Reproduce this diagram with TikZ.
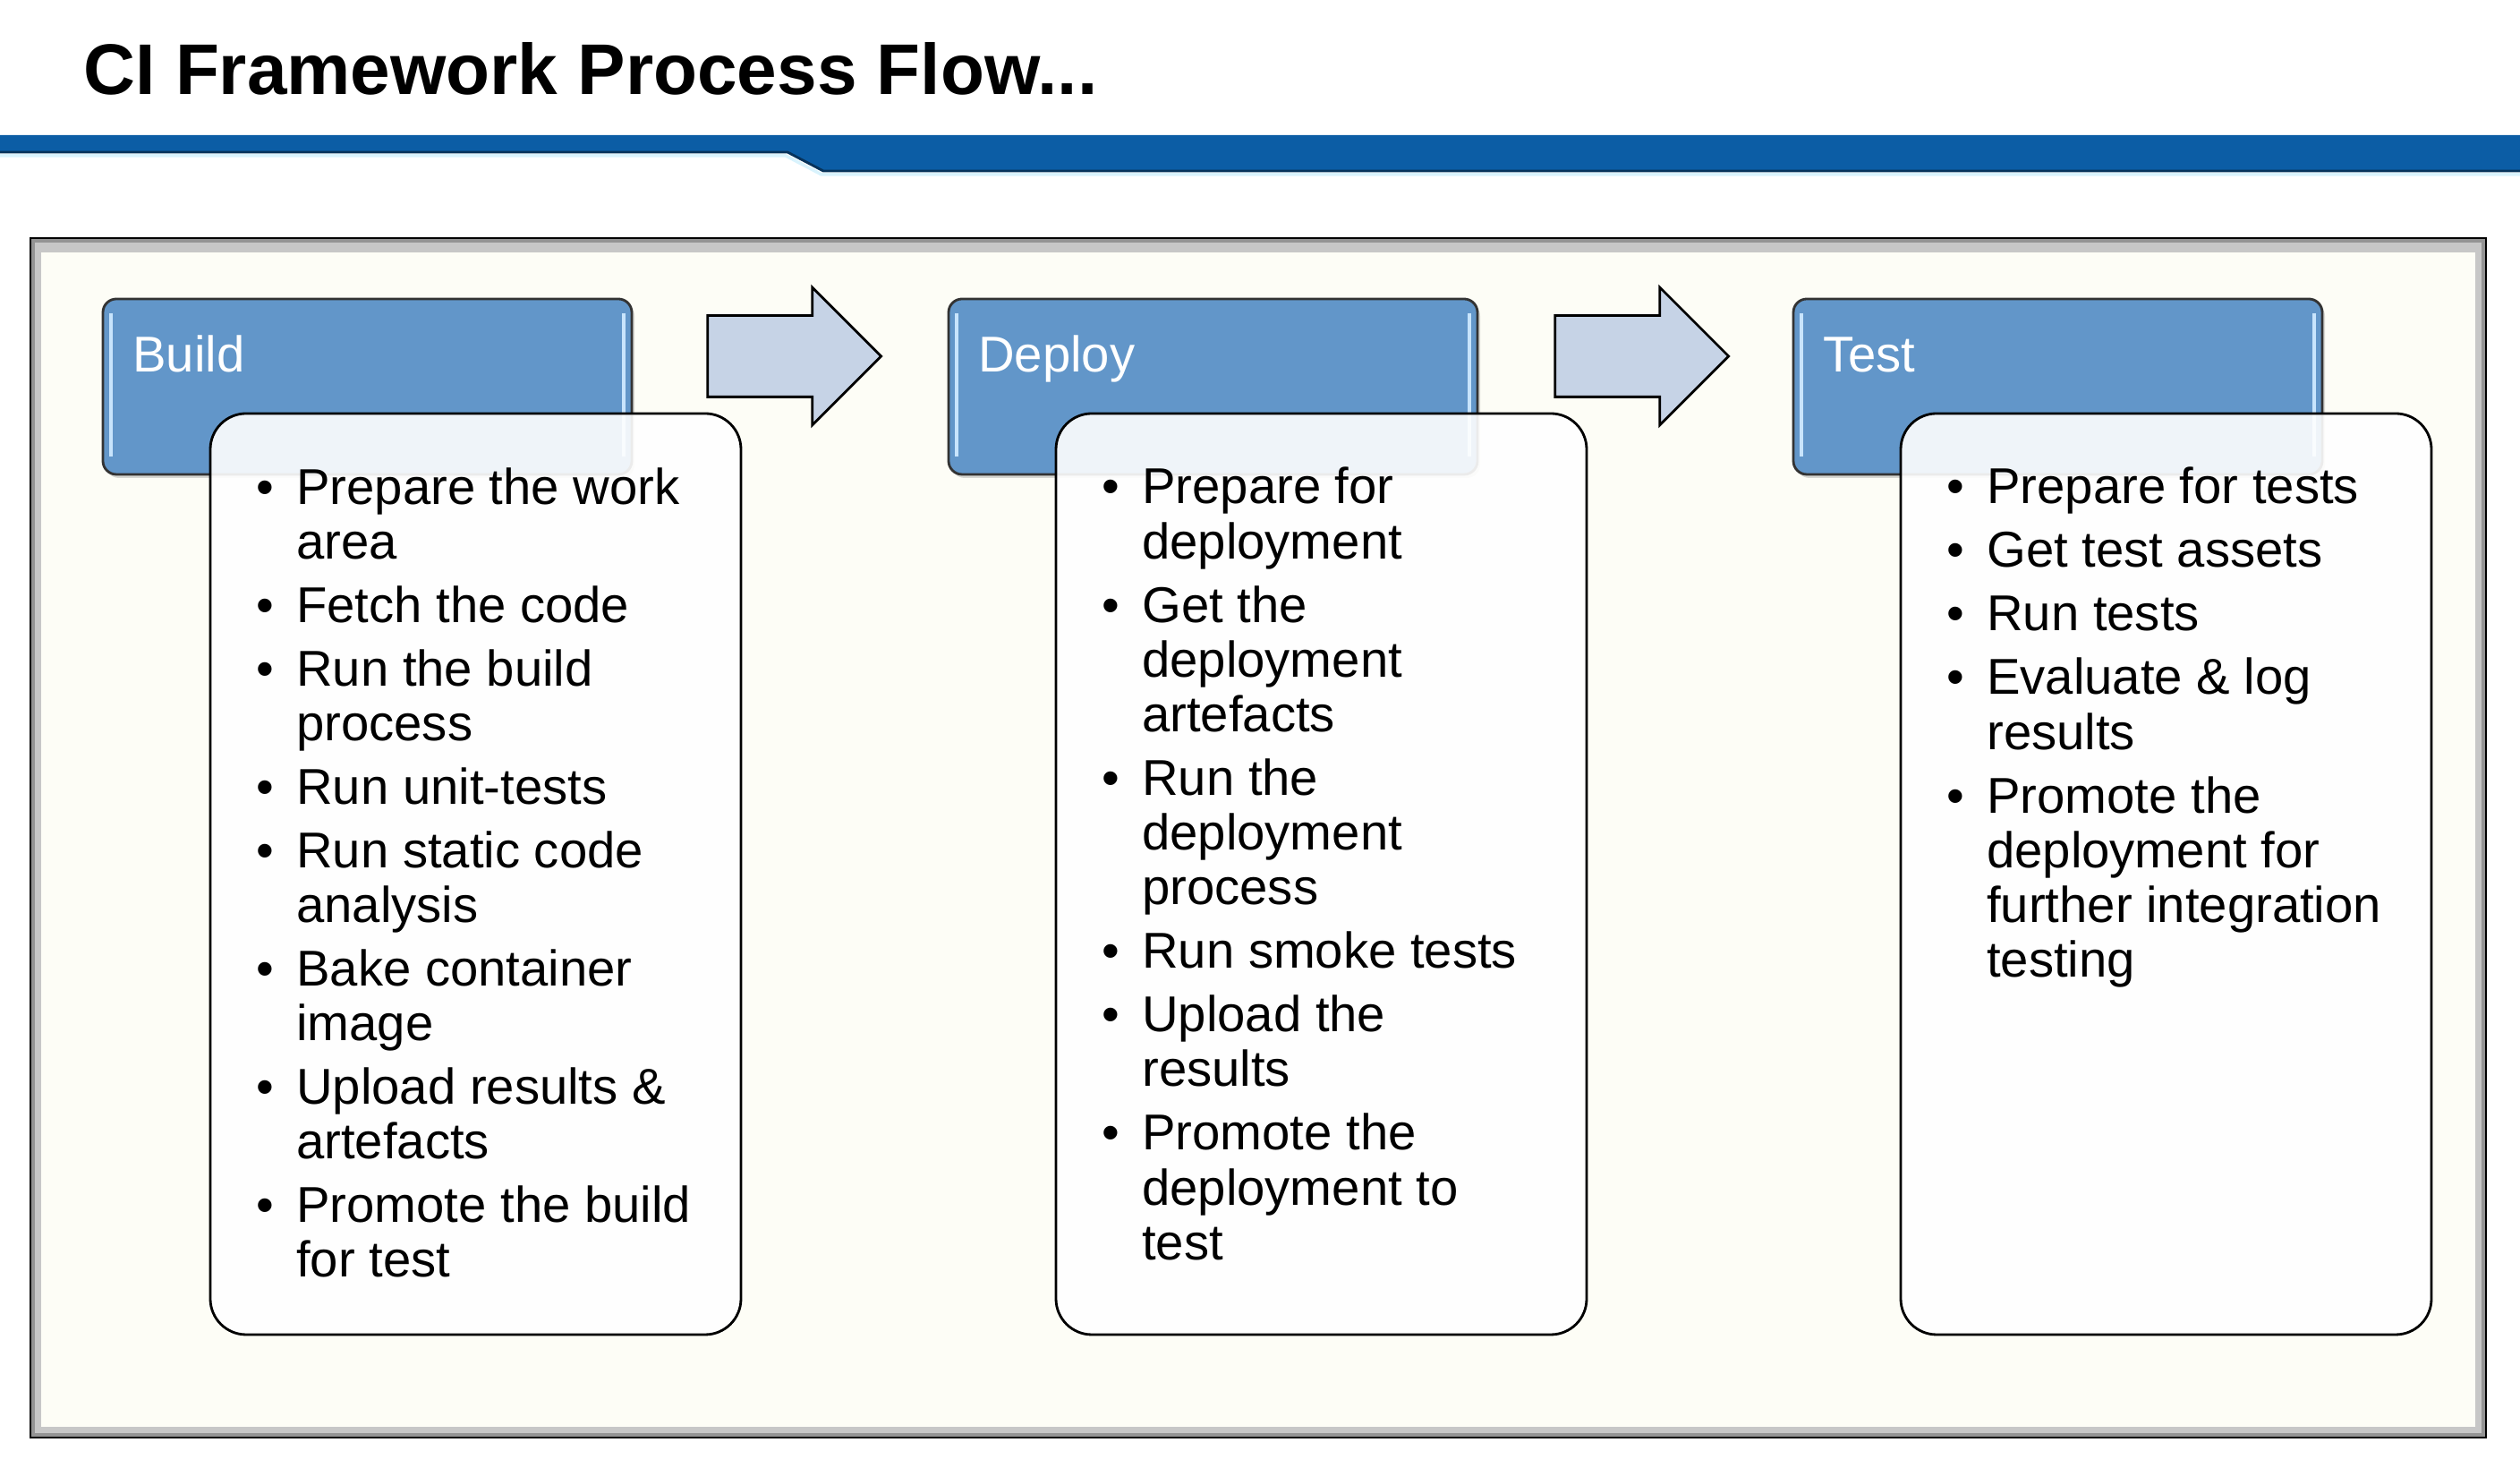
\documentclass[tikz,border=0pt]{standalone}
\usepackage{fontspec}
\setmainfont{Liberation Sans}
\usepackage{enumitem}
\usetikzlibrary{shapes.arrows, positioning, shadows}
\definecolor{barblue}{RGB}{12, 93, 165}
\definecolor{hdrblue}{RGB}{98, 150, 201}
\definecolor{hdrshine}{RGB}{200, 228, 252}
\definecolor{arrowblue}{RGB}{198, 211, 230}
\definecolor{framecream}{RGB}{253, 253, 246}

\newlist{steplist}{itemize}{1}
\setlist[steplist]{label=\textbullet, leftmargin=0.45cm, labelsep=0.25cm, itemsep=2.8pt, parsep=0pt, topsep=0pt, partopsep=0pt}

\begin{document}
\begin{tikzpicture}[
  hdrbox/.style={draw=black!80, fill=hdrblue, rounded corners=0.15cm, minimum width=5.91cm, minimum height=1.96cm, inner sep=0pt, line width=0.8pt,
    drop shadow={opacity=0.3, shadow xshift=0.03cm, shadow yshift=-0.04cm},
    path picture={
      \draw[hdrshine, line width=0.9pt] ([xshift=0.09cm, yshift=-0.16cm]path picture bounding box.north west) -- ([xshift=0.09cm, yshift=0.2cm]path picture bounding box.south west);
      \draw[hdrshine, line width=0.9pt] ([xshift=-0.09cm, yshift=-0.16cm]path picture bounding box.north east) -- ([xshift=-0.09cm, yshift=0.2cm]path picture bounding box.south east);
    }},
  hdrtext/.style={anchor=base west, inner sep=0pt, text=white, font=\fontsize{16}{19}\selectfont},
  bodybox/.style={draw=black, fill=white, fill opacity=0.9, text opacity=1, rounded corners=0.4cm, minimum width=5.93cm, minimum height=10.29cm, inner sep=0pt, line width=0.8pt},
  bodytext/.style={anchor=north west, inner sep=0pt, font=\fontsize{16}{17.4}\selectfont},
  flowarrow/.style={single arrow, draw=black, fill=arrowblue, line width=0.8pt, inner xsep=0pt, inner ysep=0.44cm, minimum height=1.94cm, single arrow head extend=0.315cm, single arrow tip angle=90}
]
  \useasboundingbox (0,0) rectangle (28.16,16.40);

  % title and banner
  \node[anchor=base west, inner sep=0pt, font=\bfseries\fontsize{22.8}{27}\selectfont] (title) at (0.93,15.34) {CI Framework Process Flow...};
  \fill[barblue] (0,14.89) -- (28.16,14.89) -- (28.16,14.48) -- (9.20,14.48) -- (8.80,14.69) -- (0,14.69) -- cycle;
  \draw[barblue!55!black, line width=0.8pt] (0,14.70) -- (8.80,14.70) -- (9.20,14.49) -- (28.16,14.49);
  \draw[cyan!15, line width=1pt] (0,14.66) -- (8.78,14.66) -- (9.18,14.45) -- (28.16,14.45);

  % frame
  \filldraw[fill=black!42, draw=black, line width=0.8pt] (0.34,0.34) rectangle (27.78,13.74);
  \fill[black!22] (0.39,0.39) rectangle (27.73,13.69);
  \fill[framecream] (0.46,0.46) rectangle (27.66,13.58);

  % headers
  \node[hdrbox] (buildhdr) at (4.105,12.08) {};
  \node[hdrbox] (deployhdr) at (13.555,12.08) {};
  \node[hdrbox] (testhdr) at (22.995,12.08) {};
  \node[hdrtext] (buildname) at ([xshift=0.34cm, yshift=-0.83cm]buildhdr.north west) {Build};
  \node[hdrtext] (deployname) at ([xshift=0.34cm, yshift=-0.83cm]deployhdr.north west) {Deploy};
  \node[hdrtext] (testname) at ([xshift=0.34cm, yshift=-0.83cm]testhdr.north west) {Test};

  % arrows between stages
  \node[flowarrow] (arrowA) at (8.65,12.42) {};
  \node[flowarrow] (arrowB) at (18.12,12.42) {};

  % task boxes
  \node[bodybox] (buildbody) at (5.315,6.635) {};
  \node[bodybox] (deploybody) at (14.765,6.635) {};
  \node[bodybox] (testbody) at (24.205,6.635) {};

  \node[bodytext] (buildtasks) at ([xshift=0.52cm, yshift=-0.61cm]buildbody.north west) {%
    \begin{minipage}[t]{5.6cm}
    \begin{steplist}
      \item Prepare the work\newline area
      \item Fetch the code
      \item Run the build\newline process
      \item Run unit-tests
      \item Run static code\newline analysis
      \item Bake container\newline image
      \item Upload results \&\newline artefacts
      \item Promote the build\newline for test
    \end{steplist}
    \end{minipage}};
  \node[bodytext] (deploytasks) at ([xshift=0.52cm, yshift=-0.61cm]deploybody.north west) {%
    \begin{minipage}[t]{5.6cm}
    \begin{steplist}
      \item Prepare for\newline deployment
      \item Get the\newline deployment\newline artefacts
      \item Run the\newline deployment\newline process
      \item Run smoke tests
      \item Upload the\newline results
      \item Promote the\newline deployment to\newline test
    \end{steplist}
    \end{minipage}};
  \node[bodytext] (testtasks) at ([xshift=0.52cm, yshift=-0.61cm]testbody.north west) {%
    \begin{minipage}[t]{5.6cm}
    \begin{steplist}
      \item Prepare for tests
      \item Get test assets
      \item Run tests
      \item Evaluate \& log\newline results
      \item Promote the\newline deployment for\newline further integration\newline testing
    \end{steplist}
    \end{minipage}};
\end{tikzpicture}
\end{document}
